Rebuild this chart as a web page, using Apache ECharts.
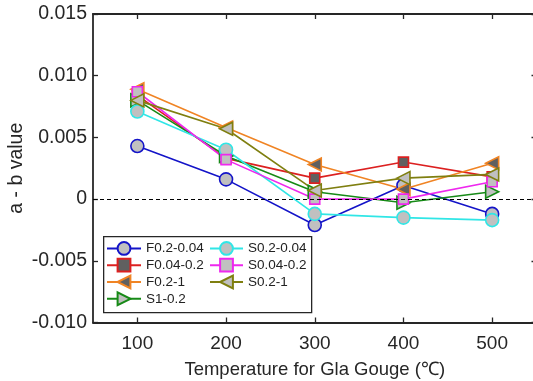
<!DOCTYPE html>
<html>
<head>
<meta charset="utf-8">
<script src="https://cdn.jsdelivr.net/npm/echarts@6/dist/echarts.min.js"></script>
<style>
  html, body { margin: 0; padding: 0; background: #fff; }
  #chart { width: 533px; height: 381px; }
</style>
</head>
<body>
<div id="chart"></div>
<script>
// Gouge temperatures (°C)
const temps = [100, 200, 300, 400, 500];
const xTicks = [100, 200, 300, 400, 500];
const yTicks = [-0.010, -0.005, 0, 0.005, 0.010, 0.015];

// a - b values per velocity step
const f02_004 = [0.0043, 0.0016, -0.0021, 0.0011, -0.0012];
const f004_02 = [0.0084, 0.0033, 0.0017, 0.0030, 0.0018];
const f02_1   = [0.0089, 0.0058, 0.0028, 0.0008, 0.0029];
const s1_02   = [0.0080, 0.0035, 0.0006, -0.0003, 0.0006];
const s02_004 = [0.0071, 0.0040, -0.0012, -0.0015, -0.0017];
const s004_02 = [0.0087, 0.0032, 0.0000, 0.0000, 0.0014];
const s02_1   = [0.0080, 0.0057, 0.0007, 0.0017, 0.0020];

const FONT = 'Liberation Sans, Arial, sans-serif';
const AXIS = '#262626';
const TEXT = '#262626';
const LIGHT = '#c0c0c0';
const DARK = '#606060';

function mk(name, values, color, symbol, rotate, fill, size) {
  return {
    name: name,
    type: 'line',
    data: temps.map((t, i) => [t, values[i]]),
    symbol: symbol,
    symbolSize: size,
    symbolRotate: rotate,
    showAllSymbol: true,
    lineStyle: { color: color, width: 1.6 },
    itemStyle: { color: fill, borderColor: color, borderWidth: 1.6 },
    emphasis: { disabled: true },
    z: 3
  };
}

const series = [
  mk('F0.2-0.04', f02_004, '#1414c8', 'circle', 0, LIGHT, 13),
  mk('F0.04-0.2', f004_02, '#dc2020', 'rect', 0, DARK, 10),
  mk('F0.2-1',    f02_1,   '#f08424', 'triangle', 90, DARK, 13),
  mk('S1-0.2',    s1_02,   '#178a17', 'triangle', -90, LIGHT, 13),
  mk('S0.2-0.04', s02_004, '#30e6e6', 'circle', 0, LIGHT, 13),
  mk('S0.04-0.2', s004_02, '#ee28ee', 'rect', 0, LIGHT, 10),
  mk('S0.2-1',    s02_1,   '#7f7f10', 'triangle', 90, LIGHT, 13)
];

// zero reference line
series[0].markLine = {
  silent: true,
  symbol: 'none',
  label: { show: false },
  lineStyle: { color: '#000', type: [4, 3], width: 1 },
  data: [{ yAxis: 0 }]
};

const legendText = { fontFamily: FONT, fontSize: 13.5, color: '#222' };

function boxAxis(pos, extra) {
  return Object.assign({
    type: 'value',
    position: pos,
    axisLine: { show: true, onZero: false, lineStyle: { color: AXIS, width: 1.8 } },
    axisTick: { show: true, inside: true, length: 5, lineStyle: { color: AXIS, width: 1.3 } },
    axisLabel: { show: false },
    splitLine: { show: false }
  }, extra);
}

const chart = echarts.init(document.getElementById('chart'), null, { renderer: 'canvas' });
chart.setOption({
  animation: false,
  backgroundColor: '#fff',
  grid: { left: 93, top: 14, right: -3.5, bottom: 58.5, containLabel: false, outerBoundsMode: 'none' },
  xAxis: [
    boxAxis('bottom', {
      min: 50, max: 550,
      name: 'Temperature for Gla Gouge (℃)',
      nameLocation: 'middle', nameGap: 38,
      nameTextStyle: { fontFamily: FONT, fontSize: 18.5, color: TEXT },
      axisTick: { show: true, inside: true, length: 5, customValues: xTicks, lineStyle: { color: AXIS, width: 1.3 } },
      axisLabel: { show: true, customValues: xTicks, margin: 12, fontFamily: FONT, fontSize: 19, color: TEXT }
    }),
    boxAxis('top', {
      min: 50, max: 550,
      axisTick: { show: true, inside: true, length: 5, customValues: xTicks, lineStyle: { color: AXIS, width: 1.3 } }
    })
  ],
  yAxis: [
    boxAxis('left', {
      min: -0.010, max: 0.015, interval: 0.005,
      name: 'a - b value',
      nameLocation: 'middle', nameGap: 66, nameMoveOverlap: false,
      nameTextStyle: { fontFamily: FONT, fontSize: 19.5, color: TEXT },
      axisLabel: {
        show: true, margin: 6, fontFamily: FONT, fontSize: 19.5, color: TEXT,
        formatter: v => Math.abs(v) < 1e-9 ? '0' : v.toFixed(3)
      }
    }),
    boxAxis('right', { min: -0.010, max: 0.015, interval: 0.005 })
  ],
  legend: [{
    left: 106, top: 241, orient: 'vertical', padding: 0,
    itemWidth: 34, itemHeight: 16, itemGap: 2,
    data: ['F0.2-0.04', 'F0.04-0.2', 'F0.2-1', 'S1-0.2'],
    textStyle: legendText, selectedMode: false
  }, {
    left: 209, top: 241, orient: 'vertical', padding: 0,
    itemWidth: 33, itemHeight: 16, itemGap: 2,
    data: ['S0.2-0.04', 'S0.04-0.2', 'S0.2-1'],
    textStyle: legendText, selectedMode: false
  }],
  graphic: [{
    type: 'rect', left: 103, top: 236,
    shape: { width: 208, height: 76 },
    style: { fill: '#fff', stroke: '#262626', lineWidth: 1.3 },
    z: 4
  }],
  series: series
});
</script>
</body>
</html>
